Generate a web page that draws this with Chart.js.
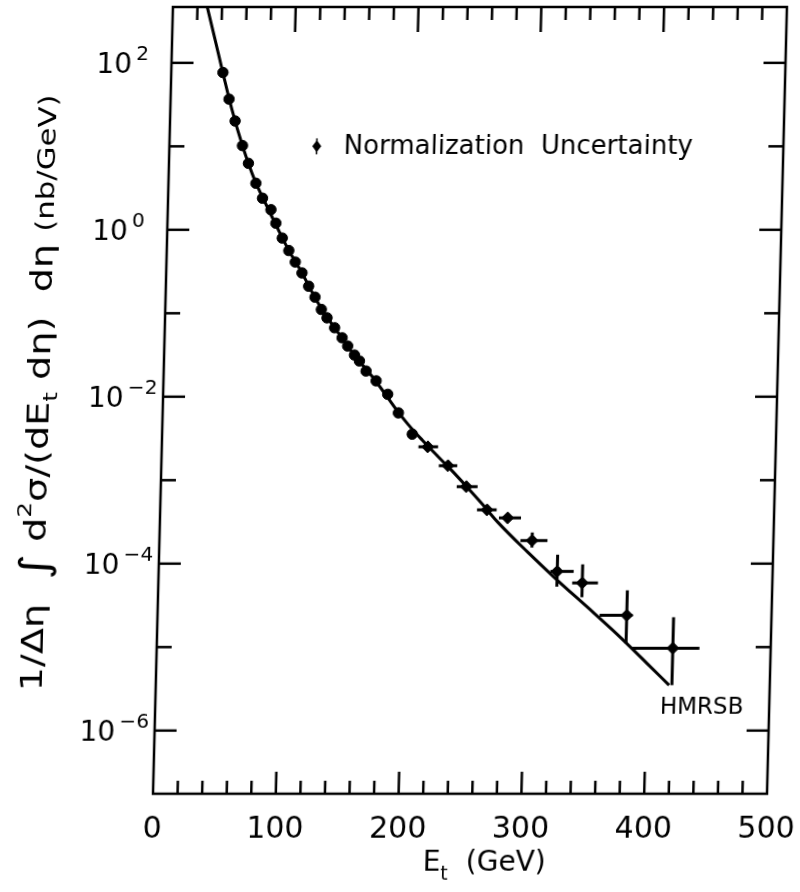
<!DOCTYPE html>
<html>
<head>
<meta charset="utf-8">
<script src="https://cdn.jsdelivr.net/npm/chart.js@4.4.0/dist/chart.umd.min.js"></script>
<style>
    body { margin: 0; background: #fff; }
    /* the scanned figure leans a little: sides are sheared, top and bottom are level */
    #wrap { width: 800px; height: 892px; transform: skewX(-1.45deg); transform-origin: 0 794px; }
</style>
</head>
<body>
<div id="wrap"><canvas id="etChart" width="800" height="892"></canvas></div>
<script>
// Measured points: E_t (GeV) and cross section (nb/GeV)
var energy = [42.1, 47.6, 53.0, 59.5, 64.7, 71.2, 76.9, 84.0, 88.3, 93.8, 99.4, 104.9, 110.6, 116.3, 121.7,
    127.1, 131.9, 138.3, 144.6, 149.3, 155.0, 159.2, 164.8, 173.2, 182.9, 192.0, 203.7, 216.6, 233.4, 248.8,
    266.1, 283.1, 303.5, 324.6, 345.2, 382.1, 420.3];
var sigma = [76.6, 36.8, 20.1, 10.2, 6.26, 3.61, 2.39, 1.74, 1.20, 0.796, 0.564, 0.411, 0.304, 0.211, 0.156,
    0.111, 0.0881, 0.0670, 0.0508, 0.0405, 0.0316, 0.0268, 0.0203, 0.0155, 0.0107, 0.0064, 0.00356, 0.00251,
    0.00149, 8.36e-4, 4.41e-4, 3.53e-4, 1.89e-4, 8.07e-5, 5.87e-5, 2.40e-5, 9.7e-6];

// Error bars (bin edges in E_t, range in sigma), null = none drawn
var etLow = [null, null, null, null, null, null, null, null, null, null, null, null, null, null, null,
    null, null, null, null, null, null, null, null, null, null, null, null,
    209, 226, 241, 258, 276, 294, 319, 337, 360, 387];
var etHigh = [null, null, null, null, null, null, null, null, null, null, null, null, null, null, null,
    null, null, null, null, null, null, null, null, null, null, null, null,
    225, 241, 258, 274, 294, 316, 338, 358, 387, 442];
var sigmaLow = [null, null, null, null, null, null, null, null, null, null, null, null, null, null, null,
    null, null, null, null, null, null, null, null, null, null, null, null, null, null, null, null, null,
    1.56e-4, 5.3e-5, 3.96e-5, 1.11e-5, 3.5e-6];
var sigmaHigh = [null, null, null, null, null, null, null, null, null, null, null, null, null, null, null,
    null, null, null, null, null, null, null, null, null, null, null, null, null, null, null, null, null,
    2.36e-4, 1.28e-4, 9.8e-5, 4.79e-5, 2.28e-5];

// HMRSB theory curve
var theoryEt = [27, 35, 42, 50, 60, 70, 80, 90, 100, 110, 120, 130, 140, 150, 160, 170, 180, 190, 200,
    212, 225, 237, 250, 262, 275, 300, 325, 350, 375, 400, 418];
var theorySigma = [530, 190, 76.6, 28.1, 9.7, 4.0, 2.0, 1.03, 0.545, 0.316, 0.171, 0.098, 0.0622, 0.0389,
    0.0258, 0.0174, 0.0112, 0.00708, 0.00468, 0.00302, 0.00193, 0.00129, 8.1e-4, 5.2e-4, 3.16e-4, 1.38e-4,
    6.3e-5, 3.0e-5, 1.41e-5, 6.3e-6, 3.5e-6];

// Axis ticks
var xTickLabels = [0, 100, 200, 300, 400, 500];
var yTickExps = [2, 0, -2, -4, -6];

var FONT = '"DejaVu Sans", sans-serif';

// draw a run of text pieces [text, size, dy]; optional width stretches the run to that length
function drawPieces(ctx, pieces, x, y, align, width) {
    var total = 0;
    pieces.forEach(function(p) {
        ctx.font = p[1] + 'px ' + FONT;
        total += ctx.measureText(p[0]).width;
    });
    var sx = width ? width / total : 1;
    ctx.save();
    ctx.translate(align === 'center' ? x - total * sx / 2 : x, y);
    ctx.scale(sx, 1);
    ctx.textAlign = 'left';
    ctx.textBaseline = 'alphabetic';
    var cx = 0;
    pieces.forEach(function(p) {
        ctx.font = p[1] + 'px ' + FONT;
        ctx.fillText(p[0], cx, p[2]);
        cx += ctx.measureText(p[0]).width;
    });
    ctx.restore();
}

function line(ctx, x1, y1, x2, y2) {
    ctx.beginPath();
    ctx.moveTo(x1, y1);
    ctx.lineTo(x2, y2);
    ctx.stroke();
}

var figurePlugin = {
    id: 'figure',
    beforeDatasetsDraw: function(chart) {
        var ctx = chart.ctx, xs = chart.scales.x, ys = chart.scales.y;
        ctx.save();
        ctx.strokeStyle = '#000';
        ctx.lineWidth = 3;
        for (var i = 0; i < energy.length; i++) {
            var px = xs.getPixelForValue(energy[i]);
            var py = ys.getPixelForValue(sigma[i]);
            if (etLow[i] !== null) {
                line(ctx, xs.getPixelForValue(etLow[i]), py, xs.getPixelForValue(etHigh[i]), py);
            }
            if (sigmaLow[i] !== null) {
                line(ctx, px, ys.getPixelForValue(sigmaLow[i]), px, ys.getPixelForValue(sigmaHigh[i]));
            }
        }
        ctx.restore();
    },
    afterDraw: function(chart) {
        var ctx = chart.ctx, a = chart.chartArea, xs = chart.scales.x, ys = chart.scales.y;
        ctx.save();
        ctx.strokeStyle = '#000';
        ctx.fillStyle = '#000';

        // frame
        ctx.lineWidth = 2.5;
        ctx.strokeRect(a.left, a.top, a.right - a.left, a.bottom - a.top);

        // x ticks, pointing inward, top and bottom
        for (var v = 20; v < 500; v += 20) {
            var px = xs.getPixelForValue(v);
            var major = v % 100 === 0;
            line(ctx, px, a.bottom, px, a.bottom - (major ? 22 : 13));
            line(ctx, px, a.top, px, a.top + (major ? 25 : 13));
        }
        // y ticks every decade, left and right
        for (var e = -6; e <= 2; e++) {
            var py = ys.getPixelForValue(Math.pow(10, e));
            var len = e % 2 === 0 ? 22 : 15;
            line(ctx, a.left, py, a.left + len, py);
            line(ctx, a.right, py, a.right - len, py);
        }

        // x tick labels
        ctx.font = '30px ' + FONT;
        ctx.textAlign = 'center';
        ctx.textBaseline = 'alphabetic';
        xTickLabels.forEach(function(t) {
            ctx.fillText(String(t), xs.getPixelForValue(t), a.bottom + 44);
        });
        // y tick labels 10^n
        yTickExps.forEach(function(n) {
            var py = ys.getPixelForValue(Math.pow(10, n));
            drawPieces(ctx, [['10', 28, 0], ['\u2009' + (n < 0 ? '\u2212' + (-n) : String(n)), 20, -13]],
                a.left - 75, py + 10, 'left');
        });

        // axis titles
        drawPieces(ctx, [['E', 28, 0], ['t', 19, 9], ['  (GeV)', 28, 0]], 486, 871, 'center');
        ctx.save();
        ctx.translate(39, 393);
        ctx.rotate(-Math.PI / 2);
        drawPieces(ctx, [['1/\u0394\u03b7  ', 31, 0], ['\u222b', 40, 3], [' d', 31, 0], ['2', 20, -15],
            ['\u03c3/(dE', 31, 0], ['t', 20, 8], [' d\u03b7)  d\u03b7 ', 31, 0], ['(nb/GeV)', 25, 0]],
            0, 0, 'center', 597);
        ctx.restore();

        // normalization marker and note
        var nx = xs.getPixelForValue(120), ny = ys.getPixelForValue(10);
        ctx.beginPath();
        ctx.moveTo(nx, ny - 6);
        ctx.lineTo(nx + 4.5, ny);
        ctx.lineTo(nx, ny + 6);
        ctx.lineTo(nx - 4.5, ny);
        ctx.closePath();
        ctx.fill();
        ctx.lineWidth = 1.5;
        line(ctx, nx, ny - 8, nx, ny + 8);
        drawPieces(ctx, [['Normalization  Uncertainty', 26, 0]], nx + 27, ny + 8, 'left');

        // curve label
        drawPieces(ctx, [['HMRSB', 23, 0]], xs.getPixelForValue(411), ys.getPixelForValue(1.6e-6), 'left');
        ctx.restore();
    }
};

var points = energy.map(function(e, i) { return { x: e, y: sigma[i] }; });
var theory = theoryEt.map(function(e, i) { return { x: e, y: theorySigma[i] }; });

new Chart(document.getElementById('etChart').getContext('2d'), {
    type: 'scatter',
    data: {
        datasets: [{
            label: 'Data',
            data: points,
            pointStyle: energy.map(function(e, i) { return i < 27 ? 'circle' : 'rectRot'; }),
            pointRadius: energy.map(function(e, i) { return i < 27 ? 5.2 : 6; }),
            backgroundColor: '#000',
            borderColor: '#000',
            borderWidth: 1,
            order: 0
        }, {
            label: 'HMRSB',
            data: theory,
            showLine: true,
            pointRadius: 0,
            borderColor: '#000',
            borderWidth: 3,
            cubicInterpolationMode: 'monotone',
            order: 1
        }]
    },
    options: {
        responsive: false,
        animation: false,
        layout: { padding: { left: 153, right: 33, top: 5, bottom: 98 } },
        plugins: { legend: { display: false }, tooltip: { enabled: false } },
        scales: {
            x: { type: 'linear', min: 0, max: 500, display: false },
            y: { type: 'logarithmic', min: 1.75e-7, max: 467, display: false }
        }
    },
    plugins: [figurePlugin]
});
</script>
</body>
</html>
